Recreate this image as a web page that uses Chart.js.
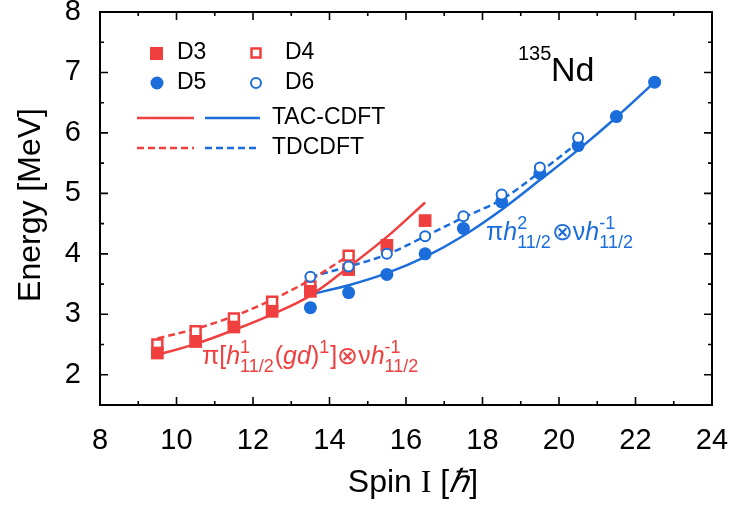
<!DOCTYPE html>
<html><head><meta charset="utf-8">
<script src="https://cdn.jsdelivr.net/npm/chart.js@4.4.1/dist/chart.umd.min.js"></script>
<style>html,body{margin:0;background:#fff}#wrap{width:732px;height:506px}</style>
</head><body><div id="wrap"><canvas id="c"></canvas></div>
<script>
// valeurs
const spinD3 = [9.5, 10.5, 11.5, 12.5, 13.5, 14.5, 15.5, 16.5];
const energyD3 = [2.36, 2.55, 2.79, 3.05, 3.38, 3.74, 4.14, 4.55];
const spinD4 = [9.5, 10.5, 11.5, 12.5, 13.5, 14.5];
const energyD4 = [2.50, 2.72, 2.93, 3.21, 3.46, 3.97];
const spinD5 = [13.5, 14.5, 15.5, 16.5, 17.5, 18.5, 19.5, 20.5, 21.5, 22.5];
const energyD5 = [3.11, 3.36, 3.66, 4.00, 4.42, 4.86, 5.33, 5.79, 6.27, 6.84];
const spinD6 = [13.5, 14.5, 15.5, 16.5, 17.5, 18.5, 19.5, 20.5];
const energyD6 = [3.62, 3.79, 4.00, 4.29, 4.62, 4.98, 5.43, 5.92];

const spinTacRed = [9.5, 10.5, 11.5, 12.5, 13.5, 14.5, 15.5, 16.5];
const tacRed = [2.33, 2.51, 2.74, 3.00, 3.31, 3.78, 4.28, 4.85];
const spinTdRed = [9.5, 10.5, 11.5, 12.5, 13.5, 14.5];
const tdRed = [2.60, 2.76, 2.97, 3.24, 3.57, 3.97];
const spinTacBlue = [13.5, 14.5, 15.5, 16.5, 17.5, 18.5, 19.5, 20.5, 21.5, 22.5];
const tacBlue = [3.33, 3.48, 3.68, 3.95, 4.30, 4.73, 5.22, 5.72, 6.26, 6.84];
const spinTdBlue = [13.5, 14.5, 15.5, 16.5, 17.5, 18.5, 19.5, 20.5];
const tdBlue = [3.62, 3.79, 3.99, 4.29, 4.60, 4.90, 5.35, 5.84];

const xTicks = [8, 10, 12, 14, 16, 18, 20, 22, 24];
const yTicks = [2, 3, 4, 5, 6, 7, 8];

const ROUGE = "#ef3f3f", BLEU = "#1c6ddc";
const SANS = "Arial, 'Liberation Sans', sans-serif";
const SERIF = "'Liberation Serif', 'Times New Roman', serif";

const pts = (xs, ys) => xs.map((x, i) => ({ x: x, y: ys[i] }));

function ligne(xs, ys, couleur, tirets) {
  return {
    data: pts(xs, ys), showLine: true, borderColor: couleur, borderWidth: 2.5,
    borderDash: tirets ? [7, 4] : [], pointRadius: 0, tension: 0.35, order: 10
  };
}

// texte avec indices / exposants empilés
function texteRiche(ctx, x, y, morceaux, taille, couleur) {
  ctx.fillStyle = couleur;
  ctx.textBaseline = "alphabetic"; ctx.textAlign = "left";
  morceaux.forEach(m => {
    if (m.sup !== undefined || m.sub !== undefined) {
      ctx.font = Math.round(taille * 0.7) + "px " + SANS;
      const w1 = m.sup ? ctx.measureText(m.sup).width : 0;
      const w2 = m.sub ? ctx.measureText(m.sub).width : 0;
      if (m.sup) ctx.fillText(m.sup, x, y - taille * 0.45);
      if (m.sub) ctx.fillText(m.sub, x, y + taille * 0.32);
      x += Math.max(w1, w2) + 1;
    } else {
      ctx.font = (m.it ? "italic " : "") + taille + "px " + (m.serif ? SERIF : SANS);
      ctx.fillText(m.t, x, y);
      x += ctx.measureText(m.t).width;
    }
  });
}

const cadre = {
  id: "cadre",
  afterDraw(chart) {
    const ctx = chart.ctx, a = chart.chartArea;
    const sx = chart.scales.x, sy = chart.scales.y;
    ctx.save();
    ctx.strokeStyle = "#000"; ctx.lineWidth = 2;
    ctx.strokeRect(a.left, a.top, a.right - a.left, a.bottom - a.top);
    ctx.lineWidth = 1.6;
    ctx.beginPath();
    for (let v = 8; v <= 24; v += 1) {
      const p = sx.getPixelForValue(v), L = v % 2 === 0 ? 8 : 4;
      ctx.moveTo(p, a.bottom); ctx.lineTo(p, a.bottom - L);
      ctx.moveTo(p, a.top); ctx.lineTo(p, a.top + L);
    }
    for (let v = 1.5; v <= 8; v += 0.5) {
      const p = sy.getPixelForValue(v), L = v % 1 === 0 ? 8 : 4;
      ctx.moveTo(a.left, p); ctx.lineTo(a.left + L, p);
      ctx.moveTo(a.right, p); ctx.lineTo(a.right - L, p);
    }
    ctx.stroke();

    // titres des axes
    ctx.fillStyle = "#000";
    ctx.save();
    ctx.translate(31, 205);
    ctx.rotate(-Math.PI / 2);
    ctx.font = "32px " + SANS; ctx.textAlign = "center"; ctx.textBaseline = "middle";
    ctx.fillText("Energy [MeV]", 0, 0);
    ctx.restore();
    const parts = [["Spin ", SANS, ""], ["I", SERIF, ""], [" [", SANS, ""], ["ℏ", SERIF, "italic "], ["]", SANS, ""]];
    let tot = 0;
    parts.forEach(p => { ctx.font = p[2] + "32px " + p[1]; tot += ctx.measureText(p[0]).width; });
    let xx = 413 - tot / 2;
    ctx.textBaseline = "alphabetic"; ctx.textAlign = "left";
    parts.forEach(p => { ctx.font = p[2] + "32px " + p[1]; ctx.fillText(p[0], xx, 492); xx += ctx.measureText(p[0]).width; });

    // légende
    ctx.font = "23px " + SANS; ctx.textBaseline = "middle"; ctx.fillStyle = "#000";
    ctx.fillText("D3", 177, 53); ctx.fillText("D4", 285, 53);
    ctx.fillText("D5", 177, 83); ctx.fillText("D6", 285, 83);
    ctx.fillText("TAC-CDFT", 272, 118); ctx.fillText("TDCDFT", 272, 148);
    ctx.fillStyle = ROUGE; ctx.fillRect(150, 47, 13, 13);
    ctx.strokeStyle = ROUGE; ctx.lineWidth = 2.5; ctx.strokeRect(251.5, 48.5, 9, 9);
    ctx.fillStyle = BLEU; ctx.beginPath(); ctx.arc(157, 83, 6.5, 0, 2 * Math.PI); ctx.fill();
    ctx.strokeStyle = BLEU; ctx.lineWidth = 2; ctx.beginPath(); ctx.arc(256, 83, 5, 0, 2 * Math.PI); ctx.stroke();
    ctx.lineWidth = 2.5;
    ctx.strokeStyle = ROUGE; ctx.beginPath(); ctx.moveTo(137, 118); ctx.lineTo(194, 118); ctx.stroke();
    ctx.strokeStyle = BLEU; ctx.beginPath(); ctx.moveTo(205, 118); ctx.lineTo(260, 118); ctx.stroke();
    ctx.setLineDash([7, 4]);
    ctx.strokeStyle = ROUGE; ctx.beginPath(); ctx.moveTo(137, 148); ctx.lineTo(194, 148); ctx.stroke();
    ctx.strokeStyle = BLEU; ctx.beginPath(); ctx.moveTo(205, 148); ctx.lineTo(260, 148); ctx.stroke();
    ctx.setLineDash([]);

    // noyau
    ctx.fillStyle = "#000"; ctx.textBaseline = "alphabetic";
    ctx.font = "20px " + SANS; ctx.fillText("135", 518, 60);
    ctx.font = "34px " + SANS; ctx.fillText("Nd", 551, 81);

    // configurations
    texteRiche(ctx, 202, 364, [
      { t: "π[" }, { t: "h", it: true }, { sup: "1", sub: "11/2" },
      { t: "(" }, { t: "gd", it: true }, { t: ")" }, { sup: "1" },
      { t: "]⊗ν" }, { t: "h", it: true }, { sup: "-1", sub: "11/2" }
    ], 25, ROUGE);
    texteRiche(ctx, 486, 240, [
      { t: "π" }, { t: "h", it: true }, { sup: "2", sub: "11/2" },
      { t: "⊗ν" }, { t: "h", it: true }, { sup: "-1", sub: "11/2" }
    ], 25, BLEU);
    ctx.restore();
  }
};

new Chart(document.getElementById("c"), {
  type: "scatter",
  data: {
    datasets: [
      { data: pts(spinD3, energyD3), pointStyle: "rect", pointRadius: 9, backgroundColor: ROUGE, borderColor: ROUGE, borderWidth: 0, order: 1 },
      { data: pts(spinD4, energyD4), pointStyle: "rect", pointRadius: 7, backgroundColor: "#fff", borderColor: ROUGE, borderWidth: 2.5, order: 1 },
      { data: pts(spinD5, energyD5), pointStyle: "circle", pointRadius: 6.5, backgroundColor: BLEU, borderColor: BLEU, borderWidth: 0, order: 1 },
      { data: pts(spinD6, energyD6), pointStyle: "circle", pointRadius: 5, backgroundColor: "#fff", borderColor: BLEU, borderWidth: 2, order: 0 },
      ligne(spinTacRed, tacRed, ROUGE, false),
      ligne(spinTdRed, tdRed, ROUGE, true),
      ligne(spinTacBlue, tacBlue, BLEU, false),
      ligne(spinTdBlue, tdBlue, BLEU, true)
    ]
  },
  options: {
    responsive: true, maintainAspectRatio: false, animation: false,
    layout: { padding: { left: 0, right: 20, top: 12, bottom: 0 } },
    plugins: { legend: { display: false }, tooltip: { enabled: false } },
    scales: {
      x: {
        type: "linear", min: 8, max: 24,
        grid: { display: false }, border: { display: false },
        afterBuildTicks: s => { s.ticks = xTicks.map(v => ({ value: v })); },
        afterFit: s => { s.height = 101; s.paddingLeft = 0; s.paddingRight = 0; },
        ticks: { font: { size: 29, family: SANS }, color: "#000", padding: 11, maxRotation: 0 }
      },
      y: {
        type: "linear", min: 1.5, max: 8,
        grid: { display: false }, border: { display: false },
        afterBuildTicks: s => { s.ticks = yTicks.map(v => ({ value: v })); },
        afterFit: s => { s.width = 100; s.paddingTop = 0; s.paddingBottom = 0; },
        ticks: { font: { size: 29, family: SANS }, color: "#000", padding: 11 }
      }
    }
  },
  plugins: [cadre]
});
</script>
</body></html>
